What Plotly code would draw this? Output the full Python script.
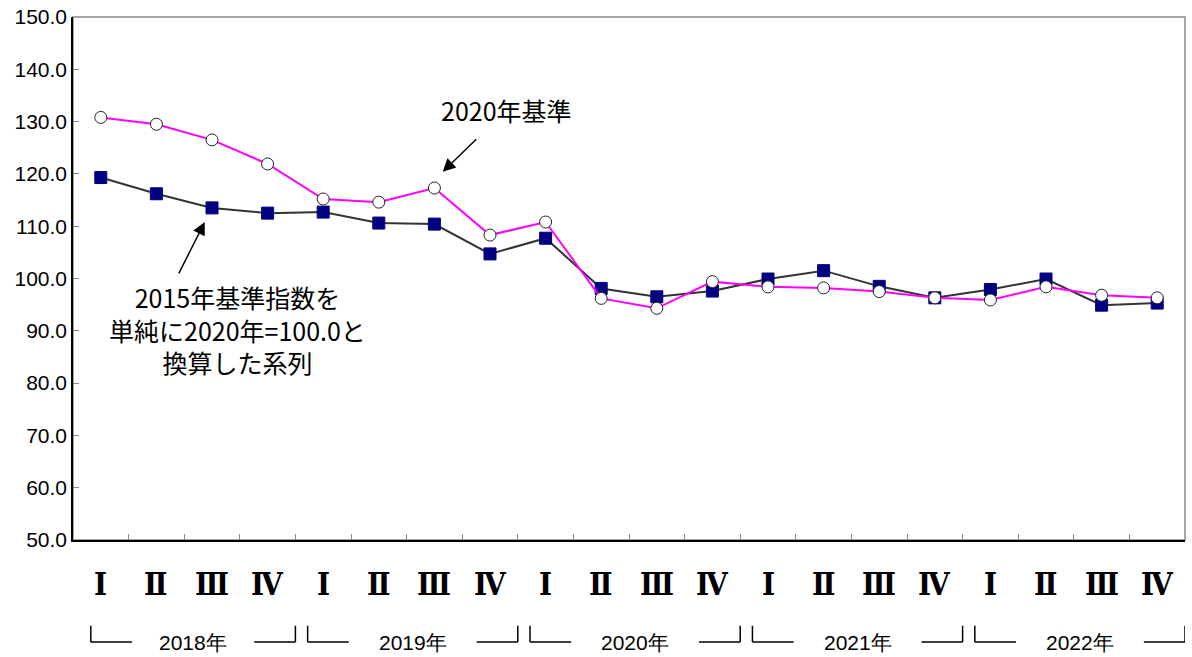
import plotly.graph_objects as go

quarters = ["Ⅰ", "Ⅱ", "Ⅲ", "Ⅳ"] * 5
years = ["2018年", "2019年", "2020年", "2021年", "2022年"]
base2020 = [130.8, 129.5, 126.5, 121.9, 115.2, 114.6, 117.3, 108.3, 110.8, 96.2,
            94.3, 99.4, 98.4, 98.2, 97.5, 96.3, 95.9, 98.4, 96.8, 96.3]
base2015 = [119.3, 116.2, 113.5, 112.5, 112.7, 110.6, 110.4, 104.7, 107.7, 98.1,
            96.5, 97.6, 99.9, 101.5, 98.5, 96.3, 97.9, 99.9, 94.9, 95.3]
yticks = [50, 60, 70, 80, 90, 100, 110, 120, 130, 140, 150]

n = len(quarters)
xs = list(range(n))
JP = "Noto Sans CJK JP"
NARROW = "Liberation Sans Narrow, Liberation Sans"

fig = go.Figure()
fig.add_trace(go.Scatter(
    x=xs, y=base2015, mode="lines+markers",
    line=dict(color="#333333", width=2),
    marker=dict(symbol="square", size=12, color="#000080", line=dict(color="#000080", width=1)),
    showlegend=False, cliponaxis=False))
fig.add_trace(go.Scatter(
    x=xs, y=base2020, mode="lines+markers",
    line=dict(color="#FF00FF", width=2),
    marker=dict(symbol="circle", size=12, color="white", line=dict(color="#222222", width=1)),
    showlegend=False, cliponaxis=False))

annotations = []
for i, q in enumerate(quarters):
    annotations.append(dict(x=i, y=-0.084, xref="x", yref="paper", yanchor="middle",
                            text="<b>" + q + "</b>", showarrow=False,
                            font=dict(family="DejaVu Serif Condensed, DejaVu Serif", size=31, color="black")))
shapes = []
for k, yr in enumerate(years):
    left = 4 * k - 0.5 + (0.32 if k == 0 else 0.22)
    right = 4 * k + 3.5
    annotations.append(dict(x=(left + right) / 2, y=-0.196, xref="x", yref="paper", yanchor="middle",
                            text=yr, showarrow=False, borderpad=0,
                            font=dict(family=NARROW, size=21, color="black")))
    for seg in [
        (left, -0.164, left, -0.195), (left, -0.195, left + 0.74, -0.195),
        (right, -0.164, right, -0.195), (right, -0.195, right - 0.74, -0.195)]:
        shapes.append(dict(type="line", xref="x", yref="paper", x0=seg[0], y0=seg[1], x1=seg[2], y1=seg[3],
                           line=dict(color="black", width=1.5)))

# frame (gray top/right)
shapes.append(dict(type="rect", xref="paper", yref="paper", x0=0, y0=0, x1=1, y1=1,
                   line=dict(color="#888888", width=1.5), layer="below"))

annotations.append(dict(x=7.3, y=132.2, xref="x", yref="y", text="2020年基準", showarrow=False,
                        font=dict(family=JP, size=25, color="black")))
annotations.append(dict(x=6.15, y=120.4, ax=6.78, ay=126.9, axref="x", ayref="y", xref="x", yref="y",
                        text="", showarrow=True, arrowhead=2, arrowsize=1.7, arrowwidth=1.5, arrowcolor="black"))
annotations.append(dict(x=2.45, y=90.2, xref="x", yref="y",
                        text="2015年基準指数を<br>単純に2020年=100.0と<br>換算した系列", showarrow=False,
                        align="center", font=dict(family=JP, size=25, color="black")))
annotations.append(dict(x=1.87, y=110.8, ax=1.39, ay=100.7, axref="x", ayref="y", xref="x", yref="y",
                        text="", showarrow=True, arrowhead=2, arrowsize=1.7, arrowwidth=1.5, arrowcolor="black"))

fig.update_layout(
    width=1192, height=657,
    margin=dict(l=73, r=7, t=17, b=117, autoexpand=False),
    paper_bgcolor="white", plot_bgcolor="white",
    xaxis=dict(range=[-0.5, n - 0.5], tickvals=[i + 0.5 for i in range(n - 1)], showticklabels=False,
               ticks="inside", ticklen=6, tickcolor="#888888", showgrid=False, zeroline=False,
               showline=True, linecolor="black", linewidth=1.5, automargin=False),
    yaxis=dict(range=[50, 150], tickvals=yticks, ticktext=[f"{v:.1f}" for v in yticks],
               ticks="inside", ticklen=6, tickcolor="#888888", showgrid=False, zeroline=False,
               showline=True, linecolor="black", linewidth=1.5, automargin=False,
               tickfont=dict(family=NARROW, size=21, color="black")),
    annotations=annotations, shapes=shapes,
)

fig.write_html("out.html", config={"displayModeBar": False},
               post_script="document.body.style.margin='0';document.body.style.overflow='hidden';")
